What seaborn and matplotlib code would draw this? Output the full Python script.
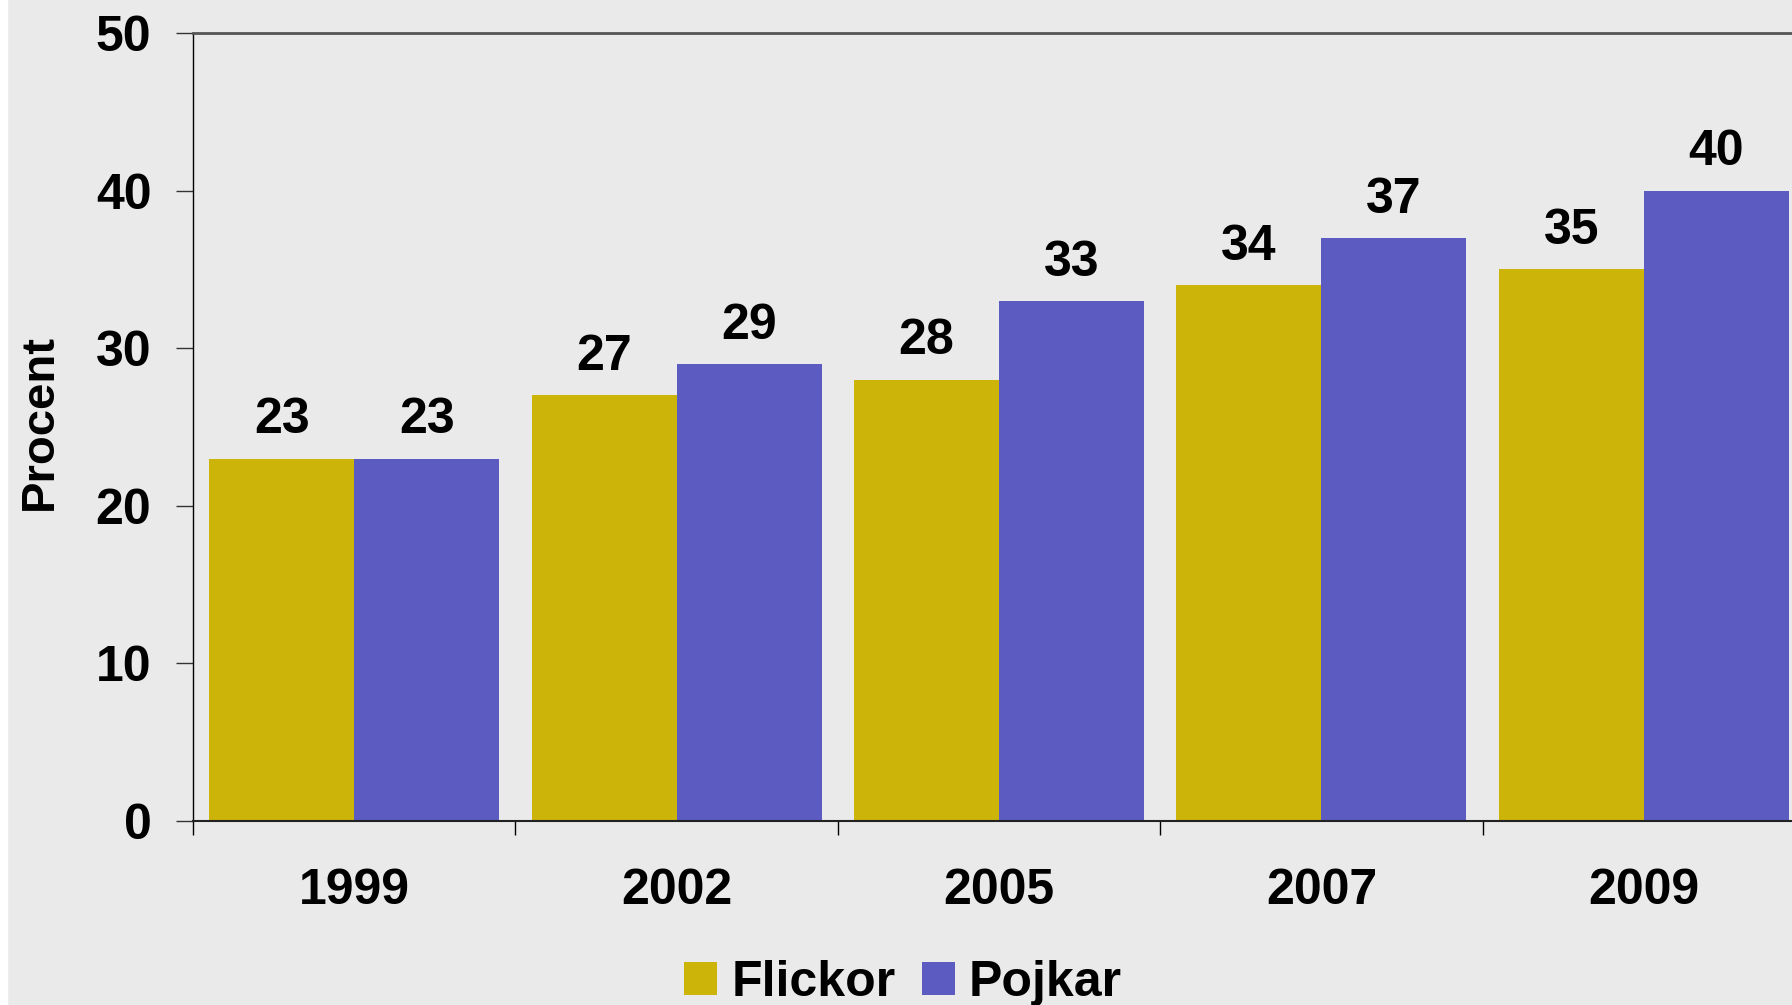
import seaborn as sns
import matplotlib.pyplot as plt
import pandas as pd
from matplotlib.patches import Patch, Rectangle

years = ["1999", "2002", "2005", "2007", "2009"]
flickor = [23, 27, 28, 34, 35]
pojkar = [23, 29, 33, 37, 40]
groups = ["Flickor", "Pojkar"]
colors = ["#CCB408", "#5B5BC1"]

df = pd.DataFrame({
    "year": years * 2,
    "value": flickor + pojkar,
    "group": ["Flickor"] * len(years) + ["Pojkar"] * len(years),
})

sns.set_theme(style="ticks")
plt.rcParams["font.family"] = ["Liberation Sans", "DejaVu Sans"]
plt.rcParams["font.weight"] = "bold"
plt.rcParams["text.color"] = "black"
plt.rcParams["xtick.labelcolor"] = "black"
plt.rcParams["ytick.labelcolor"] = "black"

bg = "#EAEAEA"
fig = plt.figure(figsize=(17.92, 10.05), dpi=100, facecolor=bg)
fig.patches.append(Rectangle((0, 0), 7 / 1792, 1, transform=fig.transFigure,
                             color="white", zorder=0))
ax = fig.add_axes([193 / 1792, 1 - 821 / 1005, 1612 / 1792, 788 / 1005])
ax.set_facecolor(bg)

p = sns.barplot(data=df, x="year", y="value", hue="group", hue_order=groups,
                palette=colors, width=0.9, saturation=1, linewidth=0,
                legend=False, ax=ax)

fs = 36
for c in ax.containers:
    ax.bar_label(c, padding=11, fontsize=fs, fontweight="bold", color="black")

ax.set_ylim(0, 50)
ax.set_xlim(-0.5, 4.5)
ax.set_yticks(range(0, 51, 10))
ax.tick_params(axis="y", length=12, width=1, pad=18, labelsize=fs, color="#333333")
ax.set_xticks(range(len(years)))
ax.set_xticks([i - 0.5 for i in range(len(years) + 1)], minor=True)
ax.tick_params(axis="x", which="major", length=0, pad=34, labelsize=fs)
ax.tick_params(axis="x", which="minor", length=10, width=1, color="black")
for lab in ax.get_xticklabels() + ax.get_yticklabels():
    lab.set_fontweight("bold")

ax.set_xlabel("")
ax.set_ylabel("")
ax.spines["left"].set_color("black")
ax.spines["left"].set_linewidth(1)
ax.spines["bottom"].set_color("#222222")
ax.spines["bottom"].set_linewidth(1.5)
ax.spines["top"].set_visible(True)
ax.spines["top"].set_color("#555555")
ax.spines["top"].set_linewidth(2)
ax.spines["right"].set_visible(False)

fig.text(52 / 1792, 1 - 422 / 1005, "Procent", rotation=90, rotation_mode="anchor",
         ha="center", va="baseline", fontsize=34, fontweight="bold")

handles = [Patch(facecolor=c, edgecolor="none") for c in colors]
fig.legend(handles, groups, loc="center", bbox_to_anchor=(903 / 1792, 1 - 983 / 1005),
           ncol=2, frameon=False, fontsize=fs, handlelength=0.66, handleheight=0.66,
           handletextpad=0.28, columnspacing=0.52, borderpad=0, borderaxespad=0)

fig.savefig("out.png", dpi=100, facecolor=bg)
